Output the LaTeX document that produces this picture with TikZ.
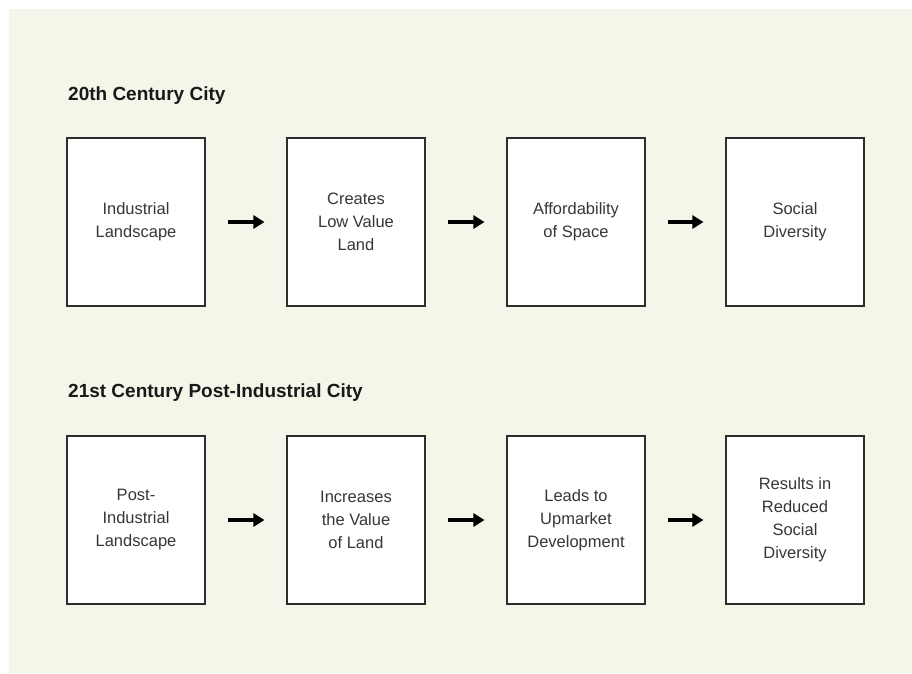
\documentclass[tikz,border=0pt]{standalone}
\usepackage{fontspec}
\usepackage{tikz}
\usepackage{xcolor}
\usetikzlibrary{arrows.meta}
\setmainfont{Liberation Sans}
\definecolor{cream}{RGB}{246,245,234}
\definecolor{boxline}{RGB}{45,45,45}
\definecolor{boxtext}{RGB}{55,55,55}

\begin{document}
\begin{tikzpicture}[x=1pt, y=-1pt,
    every node/.style={inner sep=0pt},
    stage/.style={draw=boxline, line width=1.1pt, fill=white, minimum width=138pt, minimum height=168pt,
        align=center, text=boxtext, font=\fontsize{16.5}{23}\selectfont},
    heading/.style={anchor=base west, font=\fontsize{19}{22}\selectfont\bfseries, text=black!90},
    flow/.style={line width=4pt, -{Triangle[length=11pt, width=13pt]}, shorten <=22pt, shorten >=22pt}]
                \useasboundingbox (0,0) rectangle (912,673);
                \fill[white] (0,0) rectangle (912,673);
                \fill[cream] (9,9) rectangle (912,673);

                \node[heading] (H0) at (68,100) {20th Century City};
                \node[heading] (H1) at (68,397) {21st Century Post-Industrial City};

                \node[stage] (C0) at (136,222) {Industrial\\Landscape};
                \node[stage] (C1) at (356,222) {Creates\\Low Value\\Land};
                \node[stage] (C2) at (576,222) {Affordability\\of Space};
                \node[stage] (C3) at (795,222) {Social\\Diversity};
                \node[stage] (P0) at (136,520) {Post-\\Industrial\\Landscape};
                \node[stage] (P1) at (356,520) {Increases\\the Value\\of Land};
                \node[stage] (P2) at (576,520) {Leads to\\Upmarket\\Development};
                \node[stage] (P3) at (795,520) {Results in\\Reduced\\Social\\Diversity};

                \foreach \a/\b in {C0/C1, C1/C2, C2/C3, P0/P1, P1/P2, P2/P3}
                    \draw[flow] (\a) -- (\b);
            \end{tikzpicture}
\end{document}
